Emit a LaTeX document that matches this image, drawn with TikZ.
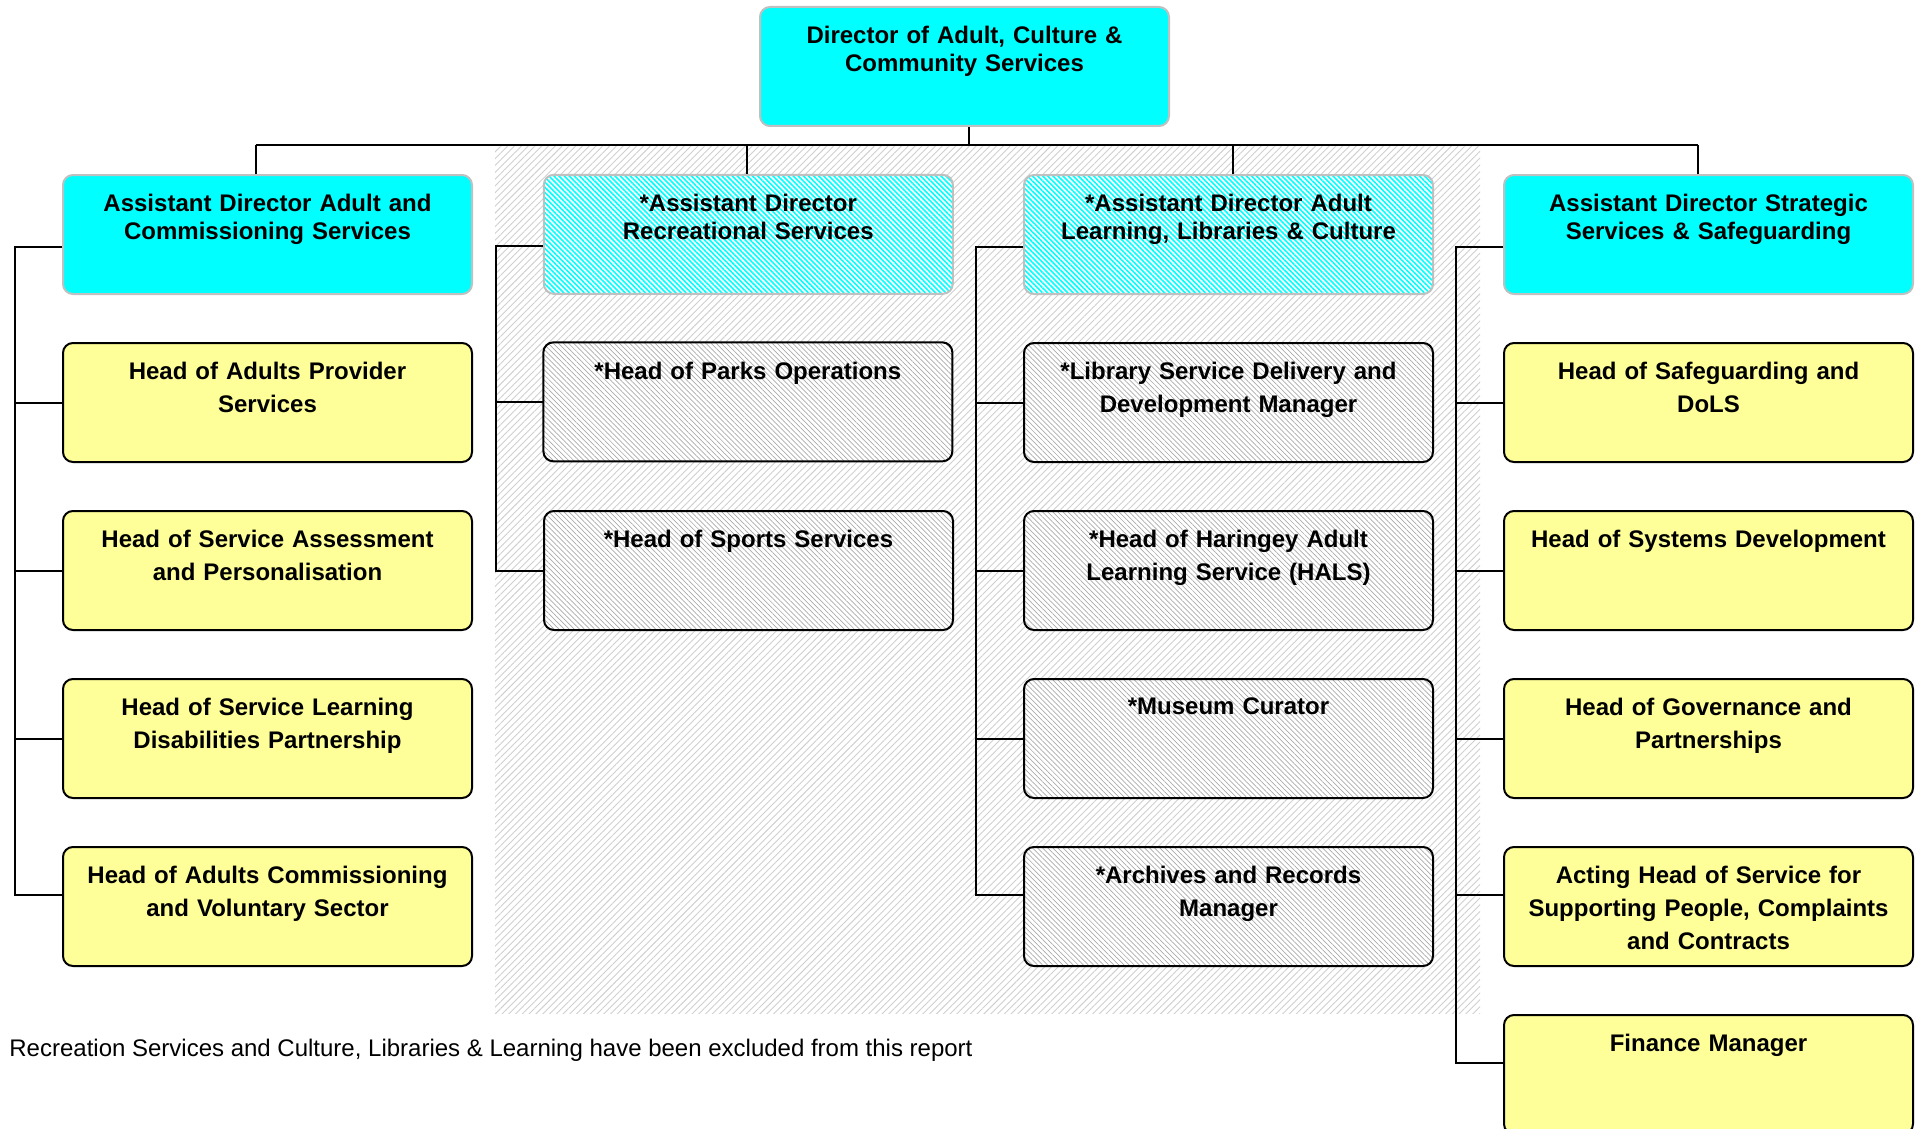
\documentclass[tikz,border=0pt]{standalone}
\usepackage{fontspec}
\setmainfont{Liberation Sans}
\usetikzlibrary{patterns.meta}

\definecolor{adcyan}{HTML}{00FFFF}
\definecolor{adgrey}{HTML}{C0C0C0}
\definecolor{headyellow}{HTML}{FFFF99}
\definecolor{hatchgrey}{HTML}{ABABAB}
\definecolor{bggrey}{HTML}{CFCFCF}

\tikzset{
	box/.style={rounded corners=5pt, line width=1pt, minimum width=204.5pt, minimum height=59.5pt, anchor=north west, inner sep=0pt},
	adbox/.style={box, draw=adgrey, fill=adcyan},
	adhatch/.style={box, draw=adgrey, preaction={fill=white}, pattern={Lines[angle=-45,distance=1.8pt,line width=0.8pt]}, pattern color=adcyan},
	headbox/.style={box, draw=black, fill=headyellow},
	headhatch/.style={box, draw=black, preaction={fill=white}, pattern={Lines[angle=-45,distance=1.8pt,line width=0.35pt]}, pattern color=hatchgrey},
	boxtext/.style={anchor=north, inner sep=0pt, text width=200pt, align=center, font=\bfseries\fontsize{12}{14}\selectfont},
	headtext/.style={boxtext, font=\bfseries\fontsize{12}{16.5}\selectfont},
	link/.style={line width=1pt}
}

\begin{document}
\begin{tikzpicture}[x=0.5pt,y=-0.5pt]
	\def\gap{168}	%distance between the tops of two rows of boxes
	\def\down{-9.7pt}	%first line of text below top of box
	\def\spine{-23.5pt}	%spine left of the column boxes
	\useasboundingbox (0,0) rectangle (1917,1129);
	\fill[pattern={Lines[angle=45,distance=2.4pt,line width=0.45pt]}, pattern color=bggrey] (495,147) rectangle (1480,1013); %excluded services
	
	\node[adbox] (dir) at (759,6) {};			%director
	\node[boxtext] (dir-t) at ([yshift=\down]dir.north) {Director of Adult, Culture \&\\Community Services};
	
	\node[adbox] (ad1) at (62,174) {};
	\node[boxtext] (ad1-t) at ([yshift=\down]ad1.north) {Assistant Director Adult and\\Commissioning Services};
	\node[adhatch] (ad2) at (543,174) {};
	\node[boxtext] (ad2-t) at ([yshift=\down]ad2.north) {*Assistant Director\\Recreational Services};
	\node[adhatch] (ad3) at (1023,174) {};
	\node[boxtext] (ad3-t) at ([yshift=\down]ad3.north) {*Assistant Director Adult\\Learning, Libraries \& Culture};
	\node[adbox] (ad4) at (1503,174) {};
	\node[boxtext] (ad4-t) at ([yshift=\down]ad4.north) {Assistant Director Strategic\\Services \& Safeguarding};
	
	\coordinate (bus) at (969,145);
	\draw[link] (dir.south -| bus) -- (bus);
	\foreach \c/\s in {1/-6pt,2/-0.5pt,3/2pt,4/-5.5pt}{
		\coordinate (stem\c) at ([xshift=\s]ad\c.north);
		\draw[link] (stem\c) -- (stem\c |- bus); %bus down to assistant directors
	}
	\draw[link] (stem1 |- bus) -- (stem4 |- bus);
	
	\foreach \t [count=\i] in {{Head of Adults Provider\\Services}, {Head of Service Assessment\\and Personalisation}, {Head of Service Learning\\Disabilities Partnership}, {Head of Adults Commissioning\\and Voluntary Sector}}{
		\node[headbox] (h1\i) at (62,{342+(\i-1)*\gap}) {};
		\node[headtext] (h1\i-t) at ([yshift=\down]h1\i.north) {\t};
	}
	\foreach \t [count=\i] in {{*Head of Parks Operations}, {*Head of Sports Services}}{
		\node[headhatch] (h2\i) at (543,{342+(\i-1)*\gap}) {};
		\node[headtext] (h2\i-t) at ([yshift=\down]h2\i.north) {\t};
	}
	\foreach \t [count=\i] in {{*Library Service Delivery and\\Development Manager}, {*Head of Haringey Adult\\Learning Service (HALS)}, {*Museum Curator}, {*Archives and Records\\Manager}}{
		\node[headhatch] (h3\i) at (1023,{342+(\i-1)*\gap}) {};
		\node[headtext] (h3\i-t) at ([yshift=\down]h3\i.north) {\t};
	}
	\foreach \t [count=\i] in {{Head of Safeguarding and\\DoLS}, {Head of Systems Development}, {Head of Governance and\\Partnerships}, {Acting Head of Service for\\Supporting People, Complaints\\and Contracts}, {Finance Manager}}{
		\node[headbox] (h4\i) at (1503,{342+(\i-1)*\gap}) {};
		\node[headtext] (h4\i-t) at ([yshift=\down]h4\i.north) {\t};
	}
	
	\foreach \c/\n in {1/4,2/2,3/4,4/5}{
		\foreach \i in {1,...,\n}{
			\pgfmathsetmacro\up{(\i>3)*6}	%lower rows join a little above their middle
			\coordinate (j\c\i) at ([yshift=\up pt]h\c\i.west);
			\draw[link] (j\c\i) -- ++(\spine,0); %spine to head
		}
		\draw[link] ([yshift=-6pt]ad\c.west) -| ([xshift=\spine]j\c\n) -- (j\c\n); %spine of the column
	}
	
	\node[anchor=west, inner sep=0pt, font=\fontsize{12}{14}\selectfont] (note) at (9,1050) {Recreation Services and Culture, Libraries \& Learning have been excluded from this report};
\end{tikzpicture}
\end{document}
